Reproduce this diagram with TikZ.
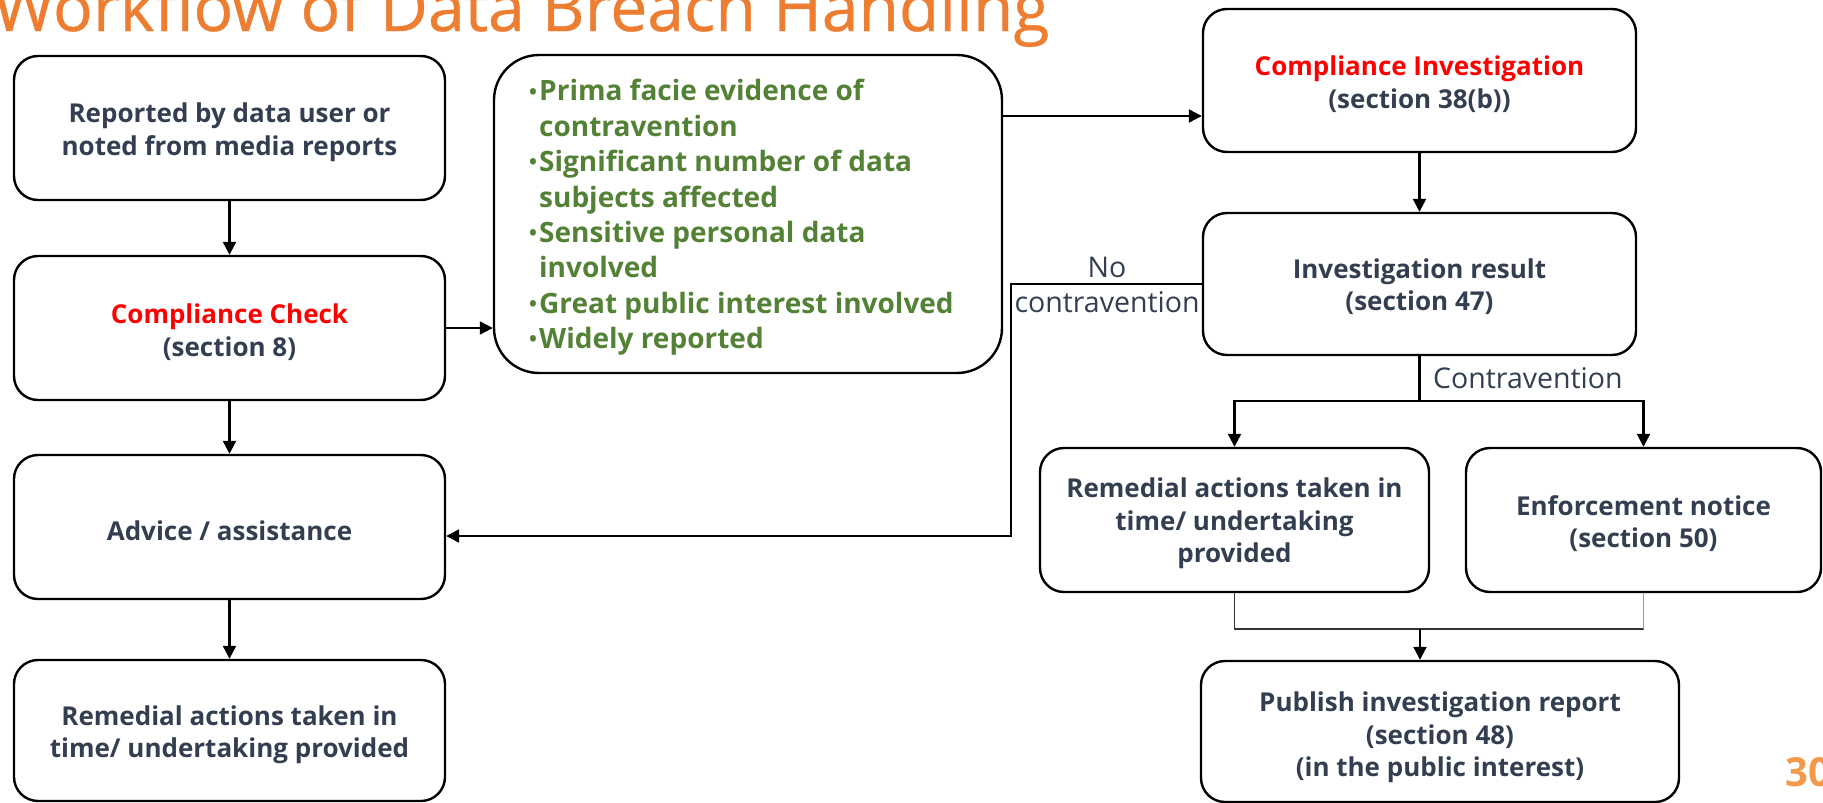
\documentclass[tikz,border=0pt]{standalone}
\usepackage{fontspec}
\setmainfont{Open Sans}
\newfontfamily\titlefont{Open Sans}[FakeBold=0.6]
\usetikzlibrary{arrows.meta}
\definecolor{txt}{HTML}{333F50}
\definecolor{grn}{HTML}{538135}
\definecolor{ttl}{HTML}{ED7D31}
\definecolor{pgc}{HTML}{F4994A}
\definecolor{lblue}{HTML}{7F9FD0}
\newcommand{\bul}{\makebox[10pt][l]{\raisebox{0.12ex}{\scalebox{0.75}{•}}}}
\newcommand{\ind}{\hspace*{10pt}}
\begin{document}
\begin{tikzpicture}[x=1pt,y=-1pt,
  box/.style={draw=black, line width=2.4pt, rounded corners=24pt, inner sep=0pt},
  btxt/.style={align=center, text=txt, font=\bfseries\fontsize{26}{32.5}\selectfont, inner sep=0pt},
  arr/.style={line width=2.2pt, -{Triangle[length=13pt,width=13pt]}},
  conn/.style={line width=2.2pt},
  thinl/.style={line width=1.3pt, draw=black!80},
  lbl/.style={text=txt, font=\fontsize{28.5}{35}\selectfont, inner sep=0pt, align=center}]
\useasboundingbox (0,0) rectangle (1823,803);
\clip (0,0) rectangle (1823,803);
% title and page number
\node[anchor=base west, text=ttl, font=\titlefont\fontsize{66}{70}\selectfont, inner sep=0pt] (title) at (-7,31) {Workflow of Data Breach Handling};
\node[anchor=base west, text=pgc, font=\bfseries\fontsize{40}{44}\selectfont, inner sep=0pt] (pg) at (1785,786) {30};
% left column
\node[box, minimum width=431pt, minimum height=144pt] (A) at (229.5,128) {};
\node[btxt] (At) at ([yshift=-4pt]A.center) {Reported by data user or\\noted from media reports};
\node[box, minimum width=431pt, minimum height=144pt] (B) at (229.5,328) {};
\node[btxt] (Bt) at ([yshift=-4pt]B.center) {\textcolor{red}{Compliance Check}\\(section 8)};
\node[box, minimum width=431pt, minimum height=144pt] (C) at (229.5,527) {};
\node[btxt] (Ct) at ([yshift=-4pt]C.center) {Advice / assistance};
\node[box, minimum width=431pt, minimum height=141pt] (D) at (229.5,730.5) {};
\node[btxt] (Dt) at ([yshift=-4pt]D.center) {Remedial actions taken in\\time/ undertaking provided};
% criteria box
\node[draw=black, line width=2.4pt, rounded corners=45pt, minimum width=508pt, minimum height=318pt] (E) at (748,214) {};
\node[anchor=west, text=grn, font=\bfseries\fontsize{28}{35.4}\selectfont, align=left, inner sep=0pt] (Et) at (529,217.5)
  {\bul Prima facie evidence of\\\ind contravention\\\bul Significant number of data\\\ind subjects affected\\\bul Sensitive personal data\\\ind involved\\\bul Great public interest involved\\\bul Widely reported};
% right column
\node[box, minimum width=433pt, minimum height=143pt] (F) at (1419.5,80.5) {};
\node[btxt] (Ft) at ([yshift=-3.5pt]F.center) {\textcolor{red}{Compliance Investigation}\\(section 38(b))};
\node[box, minimum width=433pt, minimum height=142pt] (G) at (1419.5,284) {};
\node[btxt] (Gt) at ([yshift=-2.5pt]G.center) {Investigation result\\(section 47)};
\node[box, minimum width=389pt, minimum height=144pt] (H) at (1234.5,520) {};
\node[btxt] (Ht) at ([yshift=-3.5pt]H.center) {Remedial actions taken in\\time/ undertaking\\provided};
\node[box, minimum width=355pt, minimum height=144pt] (I) at (1643.5,520) {};
\node[btxt] (It) at ([yshift=-3.5pt]I.center) {Enforcement notice\\(section 50)};
\node[box, minimum width=478pt, minimum height=141pt] (J) at (1440,731.5) {};
\node[btxt] (Jt) at ([yshift=-6pt]J.center) {Publish investigation report\\(section 48)\\(in the public interest)};
% connectors
\draw[arr] (A.south) -- (B.north);
\draw[arr] (B.south) -- (C.north);
\draw[arr] (C.south) -- (D.north);
\draw[arr] (B.east) -- (B.east -| E.west);
\coordinate (ef) at (0,116);
\draw[arr] (E.east |- ef) -- (F.west |- ef);
\draw[arr] (F.south) -- (G.north);
\coordinate (nc) at (1011,536);
\draw[arr] (G.west) -| (nc) -- (nc -| C.east);
\node[lbl] (nolbl) at (1107,285) {No\\contravention};
\coordinate (hb) at (1419.5,401);
\draw[conn] (G.south) -- (hb);
\draw[arr] (hb) -| (H.north);
\draw[arr] (hb) -| (I.north);
\node[lbl, anchor=west] (clbl) at (1433,378) {Contravention};
\coordinate (jb) at (1420,629);
\draw[thinl] (H.south) -- (H.south |- jb) -- (I.south |- jb);
\draw[line width=1.3pt, draw=lblue] (I.south |- jb) -- (I.south);
\draw[arr] (jb) -- (jb |- J.north);
\end{tikzpicture}
\end{document}
